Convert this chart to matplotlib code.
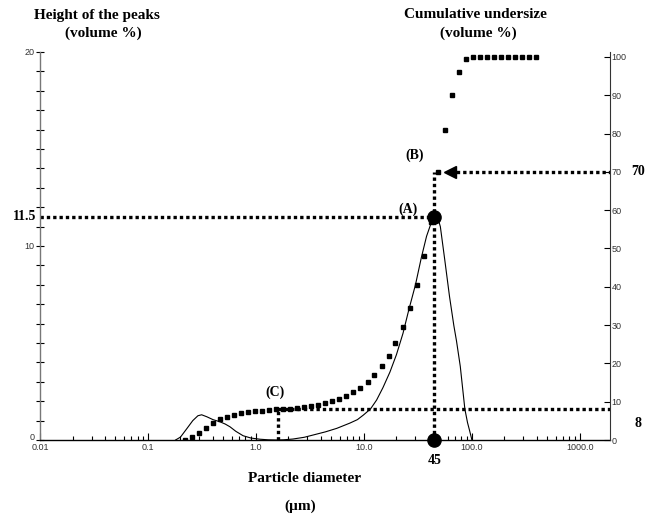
import matplotlib
matplotlib.use('Agg')
import matplotlib.pyplot as plt
import matplotlib.transforms as mtransforms
from matplotlib.ticker import FixedLocator, FixedFormatter, LogLocator, NullFormatter

# ---------------- data ----------------
# frequency curve (height of the peaks, volume %)
freq_x = [0.18, 0.20, 0.23, 0.26, 0.29, 0.314, 0.35, 0.40, 0.464, 0.52, 0.575, 0.65, 0.76, 0.9,
          1.09, 1.3, 1.55, 1.8, 2.2, 2.8, 3.4, 4.4, 5.6, 7.4, 8.7, 9.9, 11.5, 13.1, 15, 17.4,
          20, 23, 26, 30, 34, 38, 42, 45, 48, 51, 56, 62, 68, 72, 78, 83, 86, 91, 95, 100]
freq_y = [0.0, 0.15, 0.6, 1.0, 1.25, 1.3, 1.2, 1.05, 0.94, 0.82, 0.68, 0.45, 0.22, 0.1,
          0.04, 0.01, 0.0, 0.01, 0.05, 0.14, 0.26, 0.42, 0.6, 0.87, 1.05, 1.29, 1.6, 2.06, 2.7, 3.5,
          4.4, 5.5, 6.7, 8.0, 9.4, 10.5, 11.2, 11.5, 11.5, 11.0, 9.3, 7.4, 5.9, 5.1, 3.8, 2.4, 1.6, 0.9, 0.5, 0.0]

# cumulative undersize (volume %)
cum_x = [0.22, 0.256, 0.297, 0.345, 0.401, 0.466, 0.541, 0.628, 0.730, 0.847, 0.984, 1.14, 1.33,
         1.54, 1.79, 2.08, 2.42, 2.81, 3.26, 3.78, 4.40, 5.11, 5.93, 6.89, 8.00, 9.29, 10.8, 12.5,
         14.6, 16.9, 19.6, 22.8, 26.5, 30.8, 35.7, 41.5, 48.2, 56.0, 65.0, 75.5, 87.7, 102, 118,
         137, 160, 185, 215, 250, 290, 337, 392]
cum_y = [0.0, 0.7, 1.7, 3.2, 4.4, 5.4, 6.1, 6.6, 7.0, 7.3, 7.5, 7.7, 7.9,
         8.0, 8.1, 8.2, 8.4, 8.6, 8.9, 9.2, 9.6, 10.1, 10.7, 11.5, 12.5, 13.7, 15.2, 17.0,
         19.3, 22.0, 25.3, 29.5, 34.5, 40.5, 48.0, 57.0, 70.0, 81.0, 90.0, 96.0, 99.5, 100, 100,
         100, 100, 100, 100, 100, 100, 100, 100]

x_ticks = [0.01, 0.1, 1, 10, 100, 1000]
x_labels = ['0.01', '0.1', '1.0', '10.0', '100.0', '1000.0']
left_ticks = [0, 10, 20]
right_ticks = [0, 10, 20, 30, 40, 50, 60, 70, 80, 90, 100]

peak_d, peak_h = 45, 11.5        # (A)
cum_at_peak = 70                 # (B)
c_d, c_cum = 1.6, 8              # (C)

# ---------------- figure ----------------
fig = plt.figure(figsize=(6.45, 5.15), dpi=100)
ax = fig.add_axes([40/645, 75/515, 570/645, 388/515])
ax.set_xscale('log')
ax.set_xlim(0.01, 1900)
ax.set_ylim(0, 20)
ax2 = ax.twinx()
ax2.set_ylim(0, 101.3)

serif_b = dict(family='Liberation Serif', weight='bold')

# spines
for s in ['top', 'right']:
    ax.spines[s].set_visible(False)
for s in ['top', 'left', 'bottom']:
    ax2.spines[s].set_visible(False)
ax.spines['left'].set_color('#777777')
ax.spines['bottom'].set_color('black')
ax2.spines['right'].set_color('#333333')
ax.spines['bottom'].set_linewidth(1.0)
ax.spines['left'].set_linewidth(1.0)

# x ticks
ax.xaxis.set_major_locator(FixedLocator(x_ticks))
ax.xaxis.set_major_formatter(FixedFormatter(x_labels))
ax.xaxis.set_minor_locator(LogLocator(base=10, subs=[2, 3, 4, 5, 6, 7, 8, 9]))
ax.xaxis.set_minor_formatter(NullFormatter())
ax.tick_params(axis='x', which='major', direction='in', length=5, width=0.8, pad=2, labelcolor='#333333')
ax.tick_params(axis='x', which='minor', direction='in', length=3, width=0.8)

# left y ticks
ax.yaxis.set_major_locator(FixedLocator(left_ticks))
ax.yaxis.set_minor_locator(FixedLocator(list(range(0, 21))))
ax.tick_params(axis='y', which='both', direction='inout', length=6, width=0.8, pad=1, labelcolor='#333333')

# right y ticks
ax2.yaxis.set_major_locator(FixedLocator(right_ticks))
ax2.tick_params(axis='y', which='major', direction='in', length=4, width=0.8, pad=1, labelcolor='#333333')

for lab in ax.get_xticklabels() + ax.get_yticklabels() + ax2.get_yticklabels():
    lab.set_fontfamily('Liberation Sans')
    lab.set_fontsize(6.5)

# lift the left "0" label a little so it clears "0.01"
ylabs = ax.yaxis.get_majorticklabels()
ylabs[0].set_transform(ylabs[0].get_transform() +
                       mtransforms.ScaledTranslation(0, 3/100, fig.dpi_scale_trans))

# curves
ax.plot(freq_x, freq_y, color='black', lw=0.8, zorder=3)
ax2.plot(cum_x, cum_y, ls='none', marker='s', ms=2.2, color='black', zorder=3)

dot = dict(color='black', lw=2.4, ls=(0, (1, 0.9)), zorder=2)
# guide lines
ax.plot([0.01, peak_d], [peak_h, peak_h], **dot)
ax2.plot([peak_d, peak_d], [0, cum_at_peak], **dot)
ax2.plot([63, 1900], [cum_at_peak, cum_at_peak], **dot)
ax2.plot([63], [cum_at_peak], marker='<', ms=9, color='black', ls='none', zorder=4)
ax2.plot([c_d, c_d], [0, c_cum], **dot)
ax2.plot([c_d, 1900], [c_cum, c_cum], **dot)

# big markers
ax.plot([peak_d], [peak_h], 'o', ms=9.5, color='black', zorder=5, clip_on=False)
ax.plot([peak_d], [0], 'o', ms=9.5, color='black', zorder=5, clip_on=False)

# annotation labels
ax.text(25.5, 11.9, '(A)', ha='center', va='center', fontsize=10, **serif_b)
ax.text(29.6, 14.7, '(B)', ha='center', va='center', fontsize=10, **serif_b)
ax.text(1.5, 2.47, '(C)', ha='center', va='center', fontsize=10, **serif_b)

bl = mtransforms.blended_transform_factory(ax.transAxes, ax.transData)
ax.text(-0.007, peak_h, '11.5', transform=bl, ha='right', va='center', fontsize=10, **serif_b)
ax.text(peak_d, -1.05, '45', ha='center', va='center', fontsize=10, **serif_b)
br = mtransforms.blended_transform_factory(ax2.transAxes, ax2.transData)
ax2.text(1.049, cum_at_peak, '70', transform=br, ha='center', va='center', fontsize=10, **serif_b)
ax2.text(1.049, 4.3, '8', transform=br, ha='center', va='center', fontsize=10, **serif_b)

# titles
fig.text(97/645, 1 - 15/515, 'Height of the peaks', ha='center', va='center', fontsize=11, **serif_b)
fig.text(103/645, 1 - 33/515, '(volume %)', ha='center', va='center', fontsize=11, **serif_b)
fig.text(475/645, 1 - 15/515, 'Cumulative undersize', ha='center', va='center', fontsize=11, **serif_b)
fig.text(478/645, 1 - 33/515, '(volume %)', ha='center', va='center', fontsize=11, **serif_b)
fig.text(305/645, 1 - 478/515, 'Particle diameter', ha='center', va='center', fontsize=11, **serif_b)
fig.text(300/645, 1 - 506/515, '(\u00b5m)', ha='center', va='center', fontsize=11, **serif_b)

fig.savefig('out.png', dpi=100)
